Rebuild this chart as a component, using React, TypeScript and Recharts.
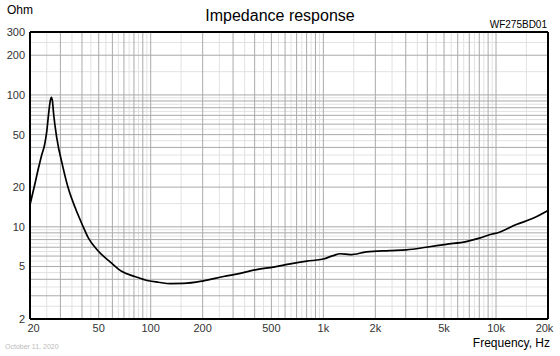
import React from "react";
import { LineChart, Line, XAxis, YAxis, ReferenceLine } from "recharts";

const freqs = [20, 21.2, 22.4, 23.4, 24.3, 25.0, 25.6, 26.2, 26.6, 27.0, 27.4, 28.6, 30.9, 33.4, 36.5, 40, 43.6, 50, 59.4, 67.8, 81, 97, 111, 130, 155, 202, 264, 330, 410, 514, 644, 802, 1000, 1142, 1252, 1428, 1776, 2420, 3020, 3940, 5140, 6720, 8020, 9160, 10460, 13100, 16380, 20000];
const impedance = [14.7, 20.3, 27.9, 35.2, 41.9, 52.7, 70.7, 90, 96, 89, 72, 47, 29.0, 19.4, 14.0, 10.5, 8.2, 6.5, 5.3, 4.6, 4.2, 3.9, 3.8, 3.71, 3.72, 3.89, 4.2, 4.44, 4.74, 4.95, 5.24, 5.49, 5.7, 6.05, 6.25, 6.15, 6.45, 6.6, 6.69, 7.0, 7.37, 7.73, 8.2, 8.7, 9.1, 10.4, 11.6, 13.3];

const xTicks = [20, 50, 100, 200, 500, 1000, 2000, 5000, 10000, 20000];
const yTicks = [2, 5, 10, 20, 50, 100, 200, 300];

const xMajorGrid = [30, 40, 50, 60, 70, 80, 90, 100, 200, 300, 400, 500, 600, 700, 800, 900, 1000, 2000, 3000, 4000, 5000, 6000, 7000, 8000, 9000, 10000];
const xMinorGrid = [25, 35, 45, 55, 65, 75, 85, 95, 150, 250, 350, 450, 550, 650, 750, 850, 950, 1500, 2500, 3500, 4500, 5500, 6500, 7500, 8500, 9500, 15000];
const yMajorGrid = [3, 4, 5, 6, 7, 8, 9, 10, 20, 30, 40, 50, 60, 70, 80, 90, 100, 200];
const yMinorGrid = [2.5, 3.5, 4.5, 5.5, 6.5, 7.5, 8.5, 9.5, 15, 25, 35, 45, 55, 65, 75, 85, 95, 150, 250];

const data = freqs.map((f, i) => ({ f, z: impedance[i] }));

const FONT = "'Liberation Sans', Arial, sans-serif";

const fmtX = (v: number) => (v >= 1000 ? `${v / 1000}k` : `${v}`);

const XTick = (props: any) => {
  const { x, y, payload } = props;
  const v = payload.value;
  const dx = v === 20 ? 3.5 : v === 20000 ? -3.5 : 0;
  return (
    <text x={x + dx} y={y} dy="0.71em" textAnchor="middle" fill="#333" fontSize={11} fontFamily={FONT}>
      {fmtX(v)}
    </text>
  );
};

export default function App() {
  return (
    <div style={{ position: "absolute", left: 0, top: 0, width: 560, height: 356, background: "#fff", fontFamily: FONT }}>
      <LineChart width={560} height={356} data={data} margin={{ top: 32, right: 12, bottom: 0, left: 0 }}>
        <XAxis
          dataKey="f"
          type="number"
          scale="log"
          domain={[20, 20000]}
          ticks={xTicks}
          allowDataOverflow
          height={37}
          tickLine={false}
          tickSize={0}
          tickMargin={5}
          axisLine={{ stroke: "#000", strokeWidth: 2 }}
          tick={<XTick />}
          interval={0}
        />
        <YAxis
          type="number"
          scale="log"
          domain={[2, 300]}
          ticks={yTicks}
          allowDataOverflow
          width={30}
          tickLine={false}
          tickSize={0}
          tickMargin={5}
          axisLine={{ stroke: "#000", strokeWidth: 2 }}
          tick={{ fill: "#333", fontSize: 11, fontFamily: FONT }}
          interval={0}
        />
        {xMinorGrid.map((v) => (
          <ReferenceLine key={`xm${v}`} x={v} stroke="#e2e2e2" strokeWidth={1} />
        ))}
        {yMinorGrid.map((v) => (
          <ReferenceLine key={`ym${v}`} y={v} stroke="#e2e2e2" strokeWidth={1} />
        ))}
        {xMajorGrid.map((v) => (
          <ReferenceLine key={`xM${v}`} x={v} stroke="#aaaaaa" strokeWidth={1} />
        ))}
        {yMajorGrid.map((v) => (
          <ReferenceLine key={`yM${v}`} y={v} stroke="#aaaaaa" strokeWidth={1} />
        ))}
        <ReferenceLine y={300} stroke="#000" strokeWidth={2} />
        <ReferenceLine x={20000} stroke="#000" strokeWidth={2} />
        <Line type="monotone" dataKey="z" stroke="#000" strokeWidth={1.7} dot={false} isAnimationActive={false} />
      </LineChart>
      <div style={{ position: "absolute", left: 7, top: 3, fontSize: 12, color: "#000" }}>Ohm</div>
      <div style={{ position: "absolute", left: 0, width: 560, top: 7, fontSize: 16, textAlign: "center", color: "#000" }}>Impedance response</div>
      <div style={{ position: "absolute", right: 13, top: 19, fontSize: 10, color: "#000" }}>WF275BD01</div>
      <div style={{ position: "absolute", right: 10, top: 336, fontSize: 12, color: "#000" }}>Frequency, Hz</div>
      <div style={{ position: "absolute", left: 5, top: 343, fontSize: 7, color: "#bbb" }}>October 11, 2020</div>
    </div>
  );
}
